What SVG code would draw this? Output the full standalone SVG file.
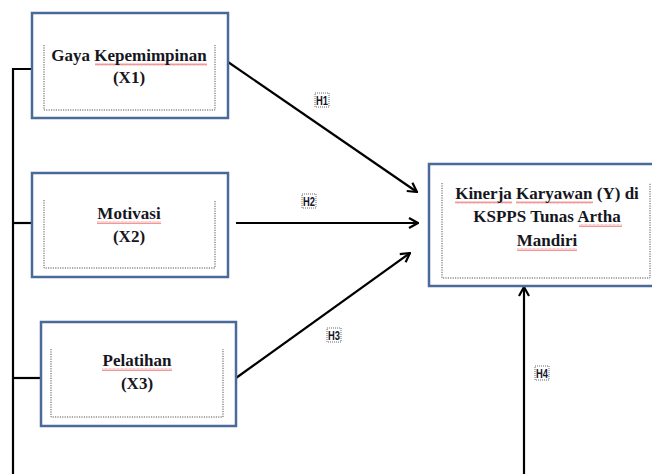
<svg xmlns="http://www.w3.org/2000/svg" width="652" height="474" viewBox="0 0 652 474">
<style>
.box{fill:#fff;stroke:#4a6a9a;stroke-width:2.5}
.inner{fill:none;stroke:#555;stroke-width:1;stroke-dasharray:1.2 1.2}
.t{font-family:"Liberation Serif","Times New Roman",serif;font-weight:bold;font-size:17px;fill:#16161e;text-anchor:middle}
.h{font-family:"Liberation Sans",Arial,sans-serif;font-weight:bold;font-size:13px;fill:#141428}
.hb{fill:none;stroke:#444;stroke-width:0.8;stroke-dasharray:1 1}
.ln{fill:none;stroke:#000;stroke-width:2.2}
.sq{fill:url(#sqp)}
</style>
<defs>
<marker id="ah" viewBox="0 0 12 12" refX="11" refY="6" markerWidth="12" markerHeight="12" markerUnits="userSpaceOnUse" orient="auto">
<path d="M2,1 L11,6 L2,11" fill="none" stroke="#000" stroke-width="2.2"/>
</marker>
<pattern id="sqp" width="4" height="3" patternUnits="userSpaceOnUse">
<path d="M0,2.5 L1,0.5 L2,2.5 L3,0.5 L4,2.5" fill="none" stroke="#e85050" stroke-width="0.6"/>
</pattern>
</defs>
<g id="connectors">
<path class="ln" d="M13,474 V69 H32"/>
<path class="ln" d="M13,223 H32"/>
<path class="ln" d="M13,378 H41"/>
<line class="ln" x1="228" y1="62" x2="417" y2="192" marker-end="url(#ah)"/>
<line class="ln" x1="236" y1="223" x2="418" y2="223" marker-end="url(#ah)"/>
<line class="ln" x1="236" y1="378" x2="410" y2="253" marker-end="url(#ah)"/>
<line class="ln" x1="524" y1="474" x2="524" y2="287" marker-end="url(#ah)"/>
<g id="H1"><rect class="hb" x="315" y="93" width="14" height="14"/><text class="h" x="316" y="105" textLength="12" lengthAdjust="spacingAndGlyphs">H1</text></g>
<g id="H2"><rect class="hb" x="302" y="194" width="14" height="14"/><text class="h" x="303" y="206" textLength="12" lengthAdjust="spacingAndGlyphs">H2</text></g>
<g id="H3"><rect class="hb" x="327" y="328" width="14" height="14"/><text class="h" x="328" y="340" textLength="12" lengthAdjust="spacingAndGlyphs">H3</text></g>
<g id="H4"><rect class="hb" x="535" y="366" width="14" height="14"/><text class="h" x="536" y="378" textLength="12" lengthAdjust="spacingAndGlyphs">H4</text></g>
</g>
<g id="x1">
<rect class="box" x="32" y="13" width="196" height="105"/>
<path class="inner" d="M44,45 V110 H215 V45"/>
<rect class="sq" x="95" y="63" width="112" height="3"/>
<text class="t" x="129" y="61">Gaya Kepemimpinan</text>
<text class="t" x="129" y="83">(X1)</text>
</g>
<g id="x2">
<rect class="box" x="32" y="173" width="196" height="104"/>
<path class="inner" d="M44,200 V268 H215 V200"/>
<rect class="sq" x="97" y="221" width="64" height="3"/>
<text class="t" x="129" y="219">Motivasi</text>
<text class="t" x="129" y="242">(X2)</text>
</g>
<g id="x3">
<rect class="box" x="41" y="322" width="195" height="104"/>
<path class="inner" d="M51,349 V417 H223 V349"/>
<rect class="sq" x="102" y="368" width="70" height="3"/>
<text class="t" x="137" y="366">Pelatihan</text>
<text class="t" x="137" y="389">(X3)</text>
</g>
<g id="y">
<rect class="box" x="429" y="164" width="240" height="122"/>
<path class="inner" d="M442,183 V278 H650 V183"/>
<rect class="sq" x="455" y="201" width="57" height="3"/>
<rect class="sq" x="516" y="201" width="77" height="3"/>
<rect class="sq" x="579" y="224" width="43" height="3"/>
<rect class="sq" x="517" y="248" width="60" height="3"/>
<text class="t" x="547" y="199">Kinerja Karyawan (Y) di</text>
<text class="t" x="547" y="222">KSPPS Tunas Artha</text>
<text class="t" x="547" y="246">Mandiri</text>
</g>
</svg>
